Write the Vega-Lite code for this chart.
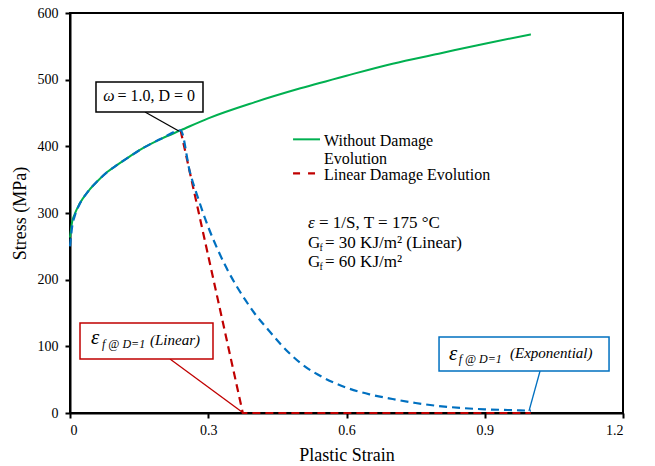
{
  "$schema": "https://vega.github.io/schema/vega-lite/v6.json",
  "width": 553,
  "height": 400,
  "autosize": {"type": "none"},
  "padding": {"left": 70, "top": 13, "right": 32, "bottom": 53},
  "background": "white",
  "config": {
    "font": "Liberation Serif",
    "view": {"stroke": "black", "strokeWidth": 2},
    "axis": {
      "grid": false,
      "domainColor": "black",
      "domainWidth": 2,
      "tickColor": "black",
      "tickWidth": 2,
      "tickSize": 5,
      "labelColor": "black",
      "labelFontSize": 14,
      "labelFont": "Liberation Serif",
      "titleColor": "black",
      "titleFontSize": 18,
      "titleFontWeight": "normal",
      "titleFont": "Liberation Serif"
    },
    "text": {"font": "Liberation Serif", "color": "black", "align": "left", "baseline": "alphabetic"}
  },
  "datasets": {
    "curves": [
      {"series": "Without Damage Evolution", "strain": 0, "stress": 263},
      {"series": "Without Damage Evolution", "strain": 0.005, "stress": 288},
      {"series": "Without Damage Evolution", "strain": 0.01, "stress": 298},
      {"series": "Without Damage Evolution", "strain": 0.02, "stress": 313},
      {"series": "Without Damage Evolution", "strain": 0.04, "stress": 333},
      {"series": "Without Damage Evolution", "strain": 0.06, "stress": 348},
      {"series": "Without Damage Evolution", "strain": 0.08, "stress": 361},
      {"series": "Without Damage Evolution", "strain": 0.1, "stress": 371},
      {"series": "Without Damage Evolution", "strain": 0.13, "stress": 385},
      {"series": "Without Damage Evolution", "strain": 0.16, "stress": 398},
      {"series": "Without Damage Evolution", "strain": 0.2, "stress": 412},
      {"series": "Without Damage Evolution", "strain": 0.24, "stress": 424},
      {"series": "Without Damage Evolution", "strain": 0.3, "stress": 442},
      {"series": "Without Damage Evolution", "strain": 0.4, "stress": 466},
      {"series": "Without Damage Evolution", "strain": 0.5, "stress": 487},
      {"series": "Without Damage Evolution", "strain": 0.6, "stress": 506},
      {"series": "Without Damage Evolution", "strain": 0.7, "stress": 524},
      {"series": "Without Damage Evolution", "strain": 0.8, "stress": 539},
      {"series": "Without Damage Evolution", "strain": 0.9, "stress": 554},
      {"series": "Without Damage Evolution", "strain": 1.0, "stress": 568},
      {"series": "Linear Damage Evolution", "strain": 0.24, "stress": 424},
      {"series": "Linear Damage Evolution", "strain": 0.375, "stress": 0},
      {"series": "Linear Damage Evolution", "strain": 1.0, "stress": 0},
      {"series": "Exponential Damage Evolution", "strain": 0, "stress": 250},
      {"series": "Exponential Damage Evolution", "strain": 0.005, "stress": 281},
      {"series": "Exponential Damage Evolution", "strain": 0.01, "stress": 295},
      {"series": "Exponential Damage Evolution", "strain": 0.02, "stress": 312},
      {"series": "Exponential Damage Evolution", "strain": 0.04, "stress": 333},
      {"series": "Exponential Damage Evolution", "strain": 0.06, "stress": 348},
      {"series": "Exponential Damage Evolution", "strain": 0.08, "stress": 361},
      {"series": "Exponential Damage Evolution", "strain": 0.1, "stress": 371},
      {"series": "Exponential Damage Evolution", "strain": 0.13, "stress": 385},
      {"series": "Exponential Damage Evolution", "strain": 0.16, "stress": 398},
      {"series": "Exponential Damage Evolution", "strain": 0.2, "stress": 412},
      {"series": "Exponential Damage Evolution", "strain": 0.24, "stress": 424},
      {"series": "Exponential Damage Evolution", "strain": 0.26, "stress": 362},
      {"series": "Exponential Damage Evolution", "strain": 0.28, "stress": 318},
      {"series": "Exponential Damage Evolution", "strain": 0.3, "stress": 279},
      {"series": "Exponential Damage Evolution", "strain": 0.32, "stress": 246},
      {"series": "Exponential Damage Evolution", "strain": 0.34, "stress": 217},
      {"series": "Exponential Damage Evolution", "strain": 0.36, "stress": 192},
      {"series": "Exponential Damage Evolution", "strain": 0.38, "stress": 170},
      {"series": "Exponential Damage Evolution", "strain": 0.4, "stress": 150},
      {"series": "Exponential Damage Evolution", "strain": 0.43, "stress": 125},
      {"series": "Exponential Damage Evolution", "strain": 0.46, "stress": 101},
      {"series": "Exponential Damage Evolution", "strain": 0.5, "stress": 75},
      {"series": "Exponential Damage Evolution", "strain": 0.55, "stress": 53},
      {"series": "Exponential Damage Evolution", "strain": 0.6, "stress": 38},
      {"series": "Exponential Damage Evolution", "strain": 0.65, "stress": 28},
      {"series": "Exponential Damage Evolution", "strain": 0.7, "stress": 21},
      {"series": "Exponential Damage Evolution", "strain": 0.75, "stress": 15},
      {"series": "Exponential Damage Evolution", "strain": 0.8, "stress": 10.5},
      {"series": "Exponential Damage Evolution", "strain": 0.85, "stress": 7.5},
      {"series": "Exponential Damage Evolution", "strain": 0.9, "stress": 5.5},
      {"series": "Exponential Damage Evolution", "strain": 0.95, "stress": 4.5},
      {"series": "Exponential Damage Evolution", "strain": 1.0, "stress": 3.5}
    ],
    "callouts": [
      {"box": "omega", "x1": 0.0564, "x2": 0.2886, "y1": 496.5, "y2": 451.5, "lx1": 0.1628, "ly1": 451.5, "lx2": 0.236, "ly2": 423},
      {"box": "linear", "x1": 0.0217, "x2": 0.3103, "y1": 135, "y2": 81, "lx1": 0.217, "ly1": 81, "lx2": 0.3733, "ly2": 1.5},
      {"box": "exponential", "x1": 0.8008, "x2": 1.1697, "y1": 114, "y2": 63, "lx1": 1.02, "ly1": 63, "lx2": 0.996, "ly2": 3}
    ],
    "legendLines": [
      {"series": "Without Damage Evolution", "x1": 0.484, "x2": 0.5425, "y": 410.5},
      {"series": "Linear Damage Evolution", "x1": 0.484, "x2": 0.5317, "y": 359.5}
    ],
    "roman16": [
      {"x": 0.5512, "y": 400.5, "t": "Without Damage"},
      {"x": 0.5512, "y": 373.5, "t": "Evolution"},
      {"x": 0.5512, "y": 349, "t": "Linear Damage Evolution"},
      {"x": 0.1030, "y": 468.5, "t": "= 1.0, D = 0"}
    ],
    "roman17": [
      {"x": 0.5404, "y": 277.5, "t": "= 1/S, T = 175 °C"},
      {"x": 0.5165, "y": 247.5, "t": "G"},
      {"x": 0.5534, "y": 247.5, "t": "= 30 KJ/m² (Linear)"},
      {"x": 0.5165, "y": 219, "t": "G"},
      {"x": 0.5534, "y": 219, "t": "= 60 KJ/m²"}
    ],
    "italic17": [
      {"x": 0.5165, "y": 277.5, "t": "ε"}
    ],
    "omega": [
      {"x": 0.0723, "y": 468.5, "t": "ω"}
    ],
    "subscripts": [
      {"x": 0.5414, "y": 243, "t": "f"},
      {"x": 0.5414, "y": 214, "t": "f"}
    ],
    "bigEps": [
      {"x": 0.0456, "y": 103.5, "t": "ε"},
      {"x": 0.8225, "y": 79.5, "t": "ε"}
    ],
    "epsSub": [
      {"x": 0.0695, "y": 97.5, "t": "f @ D=1"},
      {"x": 0.8435, "y": 75.5, "t": "f @ D=1"}
    ],
    "calloutLabel": [
      {"x": 0.1736, "y": 102, "t": "(Linear)"},
      {"x": 0.9548, "y": 82, "t": "(Exponential)"}
    ]
  },
  "layer": [
    {
      "data": {"name": "curves"},
      "transform": [{"filter": "datum.series == 'Without Damage Evolution'"}],
      "mark": {"type": "line", "color": "#00B050", "strokeWidth": 2, "interpolate": "monotone"},
      "encoding": {
        "x": {"field": "strain", "type": "quantitative", "title": "Plastic Strain",
              "scale": {"domain": [0, 1.2], "nice": false},
              "axis": {"values": [0, 0.3, 0.6, 0.9, 1.2], "format": ".1~f", "labelPadding": 5, "titlePadding": 9}},
        "y": {"field": "stress", "type": "quantitative", "title": "Stress (MPa)",
              "scale": {"domain": [0, 600], "nice": false},
              "axis": {"values": [0, 100, 200, 300, 400, 500, 600], "labelPadding": 7, "titlePadding": 8}}
      }
    },
    {
      "data": {"name": "curves"},
      "transform": [{"filter": "datum.series == 'Linear Damage Evolution'"}],
      "mark": {"type": "line", "color": "#C00000", "strokeWidth": 2.2, "strokeDash": [8, 5]},
      "encoding": {
        "x": {"field": "strain", "type": "quantitative"},
        "y": {"field": "stress", "type": "quantitative"}
      }
    },
    {
      "data": {"name": "curves"},
      "transform": [{"filter": "datum.series == 'Exponential Damage Evolution'"}],
      "mark": {"type": "line", "color": "#0070C0", "strokeWidth": 2.2, "strokeDash": [8, 5], "interpolate": "monotone"},
      "encoding": {
        "x": {"field": "strain", "type": "quantitative"},
        "y": {"field": "stress", "type": "quantitative"}
      }
    },
    {
      "data": {"name": "callouts"},
      "mark": {"type": "rule", "strokeWidth": 1.3},
      "encoding": {
        "x": {"field": "lx1", "type": "quantitative"},
        "x2": {"field": "lx2"},
        "y": {"field": "ly1", "type": "quantitative"},
        "y2": {"field": "ly2"},
        "color": {"field": "box", "type": "nominal", "legend": null,
                  "scale": {"domain": ["omega", "linear", "exponential"], "range": ["black", "#C00000", "#0070C0"]}}
      }
    },
    {
      "data": {"name": "callouts"},
      "mark": {"type": "rect", "fill": "white", "strokeWidth": 1.5},
      "encoding": {
        "x": {"field": "x1", "type": "quantitative"},
        "x2": {"field": "x2"},
        "y": {"field": "y1", "type": "quantitative"},
        "y2": {"field": "y2"},
        "stroke": {"field": "box", "type": "nominal", "legend": null,
                   "scale": {"domain": ["omega", "linear", "exponential"], "range": ["black", "#C00000", "#0070C0"]}}
      }
    },
    {
      "data": {"name": "legendLines"},
      "transform": [{"filter": "datum.series == 'Without Damage Evolution'"}],
      "mark": {"type": "rule", "color": "#00B050", "strokeWidth": 2},
      "encoding": {
        "x": {"field": "x1", "type": "quantitative"},
        "x2": {"field": "x2"},
        "y": {"field": "y", "type": "quantitative"}
      }
    },
    {
      "data": {"name": "legendLines"},
      "transform": [{"filter": "datum.series == 'Linear Damage Evolution'"}],
      "mark": {"type": "rule", "color": "#C00000", "strokeWidth": 2.2, "strokeDash": [7, 8]},
      "encoding": {
        "x": {"field": "x1", "type": "quantitative"},
        "x2": {"field": "x2"},
        "y": {"field": "y", "type": "quantitative"}
      }
    },
    {
      "data": {"name": "roman16"},
      "mark": {"type": "text", "fontSize": 16},
      "encoding": {
        "x": {"field": "x", "type": "quantitative"},
        "y": {"field": "y", "type": "quantitative"},
        "text": {"field": "t"}
      }
    },
    {
      "data": {"name": "roman17"},
      "mark": {"type": "text", "fontSize": 17},
      "encoding": {
        "x": {"field": "x", "type": "quantitative"},
        "y": {"field": "y", "type": "quantitative"},
        "text": {"field": "t"}
      }
    },
    {
      "data": {"name": "italic17"},
      "mark": {"type": "text", "fontSize": 17, "fontStyle": "italic"},
      "encoding": {
        "x": {"field": "x", "type": "quantitative"},
        "y": {"field": "y", "type": "quantitative"},
        "text": {"field": "t"}
      }
    },
    {
      "data": {"name": "omega"},
      "mark": {"type": "text", "fontSize": 16, "fontStyle": "italic"},
      "encoding": {
        "x": {"field": "x", "type": "quantitative"},
        "y": {"field": "y", "type": "quantitative"},
        "text": {"field": "t"}
      }
    },
    {
      "data": {"name": "subscripts"},
      "mark": {"type": "text", "fontSize": 10},
      "encoding": {
        "x": {"field": "x", "type": "quantitative"},
        "y": {"field": "y", "type": "quantitative"},
        "text": {"field": "t"}
      }
    },
    {
      "data": {"name": "bigEps"},
      "mark": {"type": "text", "fontSize": 21, "fontStyle": "italic"},
      "encoding": {
        "x": {"field": "x", "type": "quantitative"},
        "y": {"field": "y", "type": "quantitative"},
        "text": {"field": "t"}
      }
    },
    {
      "data": {"name": "epsSub"},
      "mark": {"type": "text", "fontSize": 12, "fontStyle": "italic"},
      "encoding": {
        "x": {"field": "x", "type": "quantitative"},
        "y": {"field": "y", "type": "quantitative"},
        "text": {"field": "t"}
      }
    },
    {
      "data": {"name": "calloutLabel"},
      "mark": {"type": "text", "fontSize": 15, "fontStyle": "italic"},
      "encoding": {
        "x": {"field": "x", "type": "quantitative"},
        "y": {"field": "y", "type": "quantitative"},
        "text": {"field": "t"}
      }
    }
  ]
}
